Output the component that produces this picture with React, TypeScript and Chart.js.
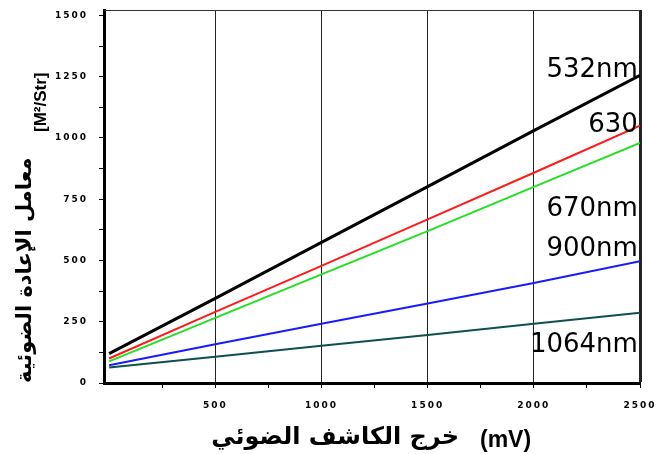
import React, { useEffect, useRef } from 'react';
import { Chart, registerables } from 'chart.js';

Chart.register(...registerables);

// ---- data ----
const X_VALUES = [0, 500, 1000, 1500, 2000, 2500];
const SERIES_NAMES = ['532nm', '630', '670nm', '900nm', '1064nm'];
const S532 = [120, 345, 574, 801, 1030, 1255];
const S630 = [100, 290, 478, 668, 858, 1050];
const S670 = [88, 266, 443, 620, 800, 980];
const S900 = [72, 158, 242, 324, 408, 497];
const S1064 = [63, 107, 152, 196, 242, 287];
const Y_TICKS = [0, 125, 250, 375, 500, 625, 750, 875, 1000, 1125, 1250, 1375, 1500];
const X_TICKS = [250, 500, 750, 1000, 1250, 1500, 1750, 2000, 2250, 2500];
const X_TITLE_AR = 'خرج الكاشف الضوئي';
const X_TITLE_UNIT = '(mV)';
const Y_TITLE_AR = 'معامل الإعادة الضوئية';
const Y_TITLE_UNIT = '[M²/Str]';
// series label anchors (data units): right edge x, baseline y
const LABEL_X = 2490;
const LABEL_Y = [1248, 1024, 681, 518, 126];

const SERIES = [S532, S630, S670, S900, S1064];
const COLORS = ['#000000', '#ff1a1a', '#22e022', '#1a1aff', '#0f4f4f'];
const WIDTHS = [3, 2, 2, 2, 2];

const decor = {
  id: 'decor',
  beforeDraw(chart: any) {
    (chart.ctx as any).letterSpacing = '2px';
  },
  afterDraw(chart: any) {
    const ctx = chart.ctx as any;
    const { chartArea } = chart;
    const xs = chart.scales.x;
    const ys = chart.scales.y;
    ctx.save();
    ctx.letterSpacing = '0px';
    // top border
    ctx.strokeStyle = '#333';
    ctx.lineWidth = 1;
    ctx.beginPath();
    ctx.moveTo(chartArea.left, chartArea.top + 0.5);
    ctx.lineTo(chartArea.right, chartArea.top + 0.5);
    ctx.stroke();

    ctx.fillStyle = '#000';
    ctx.textBaseline = 'alphabetic';
    // series labels
    ctx.font = '26px "DejaVu Sans"';
    ctx.textAlign = 'right';
    SERIES_NAMES.forEach((n, i) => {
      ctx.fillText(n, xs.getPixelForValue(LABEL_X), ys.getPixelForValue(LABEL_Y[i]));
    });

    // x title
    ctx.font = 'bold 24px "DejaVu Sans"';
    ctx.textAlign = 'right';
    ctx.fillText(X_TITLE_AR, 459, 444);
    ctx.font = 'bold 23px "Liberation Sans"';
    ctx.textAlign = 'left';
    ctx.fillText(X_TITLE_UNIT, 480, 447);

    // y title
    ctx.translate(31, 383);
    ctx.rotate(-Math.PI / 2);
    ctx.font = 'bold 21px "DejaVu Sans"';
    ctx.textAlign = 'left';
    ctx.fillText(Y_TITLE_AR, 0, 0);
    ctx.font = 'bold 17px "Liberation Sans"';
    ctx.fillText(Y_TITLE_UNIT, 251, 15);
    ctx.restore();
  },
};

export default function App() {
  const ref = useRef<HTMLCanvasElement>(null);
  useEffect(() => {
    const chart = new Chart(ref.current as HTMLCanvasElement, {
      type: 'line',
      data: {
        datasets: SERIES.map((s, i) => ({
          label: SERIES_NAMES[i],
          data: s.map((y, j) => ({ x: X_VALUES[j], y })),
          borderColor: COLORS[i],
          backgroundColor: COLORS[i],
          borderWidth: WIDTHS[i],
          pointRadius: 0,
          tension: 0,
          fill: false,
        })),
      },
      options: {
        animation: false,
        responsive: false,
        devicePixelRatio: 1,
        layout: { padding: { top: 10, right: 14, left: 0, bottom: 0 } },
        plugins: { legend: { display: false }, tooltip: { enabled: false } },
        scales: {
          x: {
            type: 'linear',
            min: -24,
            max: 2500,
            afterBuildTicks: (s: any) => {
              s.ticks = X_TICKS.map((v) => ({ value: v }));
            },
            afterFit: (s: any) => {
              s.height = 71;
              s.paddingLeft = 0;
              s.paddingRight = 0;
            },
            ticks: {
              autoSkip: false,
              maxRotation: 0,
              padding: 12,
              color: '#000',
              font: { family: 'DejaVu Sans', size: 9, weight: 'bold' },
              callback: (v: any) => (v % 500 === 0 ? String(v) : ''),
            },
            grid: {
              drawOnChartArea: true,
              color: (c: any) => (c.tick && c.tick.value % 500 === 0 ? '#222' : 'rgba(0,0,0,0)'),
              lineWidth: (c: any) => (c.tick && c.tick.value === 2500 ? 3 : 1),
              tickColor: '#000',
              tickWidth: 1,
              tickLength: 5,
            },
            border: { display: true, color: '#000', width: 3 },
          },
          y: {
            min: 0,
            max: 1522,
            afterBuildTicks: (s: any) => {
              s.ticks = Y_TICKS.map((v) => ({ value: v }));
            },
            afterFit: (s: any) => {
              s.width = 104;
              s.paddingTop = 0;
              s.paddingBottom = 0;
            },
            ticks: {
              autoSkip: false,
              padding: 11,
              color: '#000',
              font: { family: 'DejaVu Sans', size: 9, weight: 'bold' },
              callback: (v: any) => (v % 250 === 0 ? String(v) : ''),
            },
            grid: {
              drawOnChartArea: false,
              tickColor: '#000',
              tickWidth: 1,
              tickLength: 5,
            },
            border: { display: true, color: '#000', width: 3 },
          },
        },
      } as any,
      plugins: [decor],
    });
    return () => chart.destroy();
  }, []);
  return (
    <canvas
      ref={ref}
      width={654}
      height={454}
      style={{ position: 'fixed', left: 0, top: 0, width: 654, height: 454, background: '#fff' }}
    />
  );
}
